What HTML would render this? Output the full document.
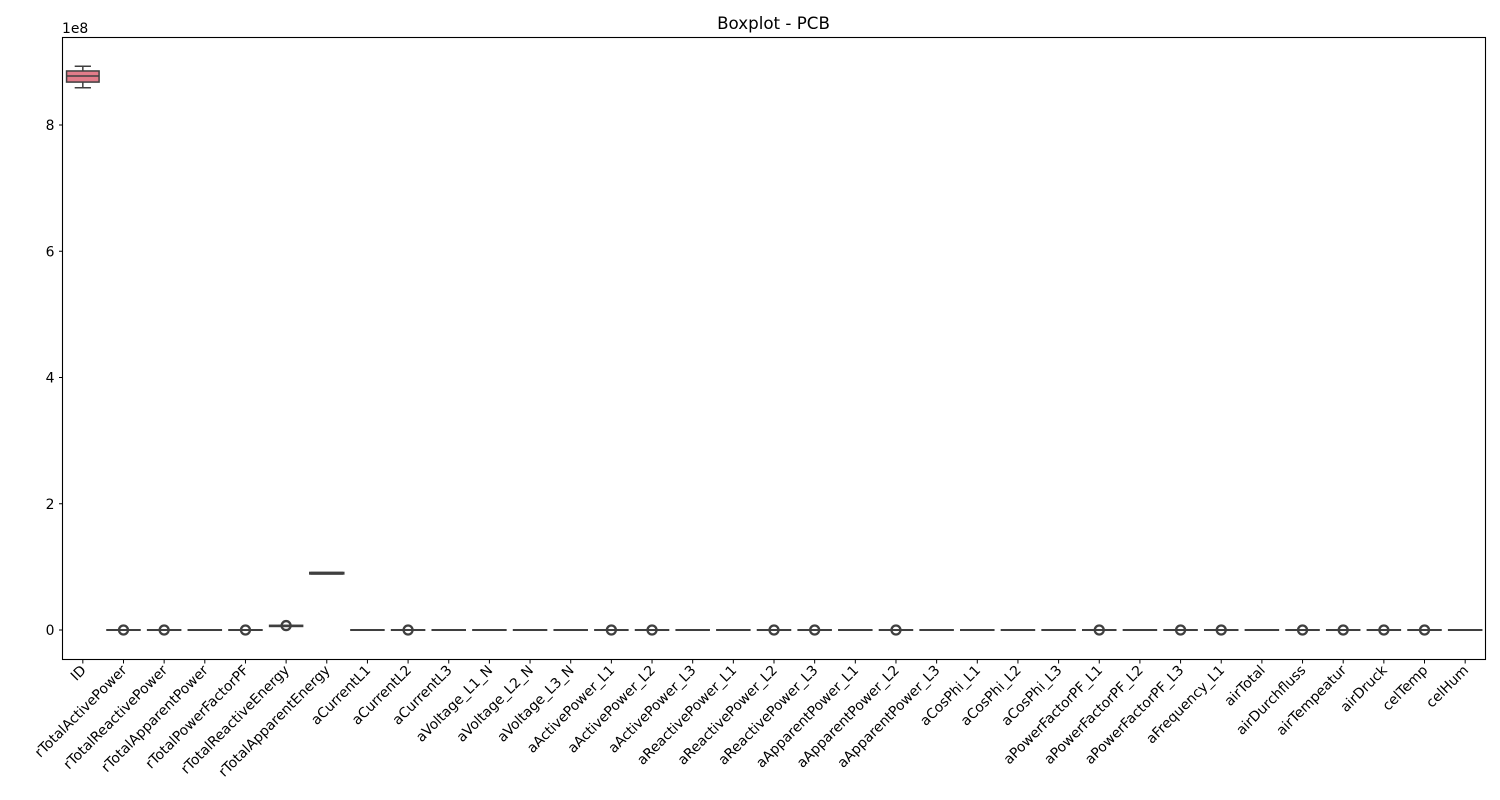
<!DOCTYPE html>
<html><head><meta charset="utf-8"><style>
html,body{margin:0;padding:0;background:#fff;}
svg{display:block;font-family:"DejaVu Sans","Liberation Sans",sans-serif;}
</style></head><body>
<svg id="chart" width="1500" height="800" viewBox="0 0 1500 800">
<text x="773.5" y="29" text-anchor="middle" font-size="16.7">Boxplot - PCB</text>
<text x="62" y="33" font-size="13.9">1e8</text>
<g id="plot"></g>
<rect x="62.5" y="37.5" width="1423" height="622" fill="none" stroke="#000" stroke-width="1.1"/>
</svg>
<script>
const categories=["ID","rTotalActivePower","rTotalReactivePower","rTotalApparentPower","rTotalPowerFactorPF","rTotalReactiveEnergy","rTotalApparentEnergy","aCurrentL1","aCurrentL2","aCurrentL3","aVoltage_L1_N","aVoltage_L2_N","aVoltage_L3_N","aActivePower_L1","aActivePower_L2","aActivePower_L3","aReactivePower_L1","aReactivePower_L2","aReactivePower_L3","aApparentPower_L1","aApparentPower_L2","aApparentPower_L3","aCosPhi_L1","aCosPhi_L2","aCosPhi_L3","aPowerFactorPF_L1","aPowerFactorPF_L2","aPowerFactorPF_L3","aFrequency_L1","airTotal","airDurchfluss","airTempeatur","airDruck","celTemp","celHum"];
// values in units of 1e8
const whiskLow=[8.59,0,0,0,0,0.06,0.9,0,0,0,0,0,0,0,0,0,0,0,0,0,0,0,0,0,0,0,0,0,0,0,0,0,0,0,0];
const q1=[8.68,0,0,0,0,0.06,0.9,0,0,0,0,0,0,0,0,0,0,0,0,0,0,0,0,0,0,0,0,0,0,0,0,0,0,0,0];
const med=[8.776,0,0,0,0,0.065,0.9,0,0,0,0,0,0,0,0,0,0,0,0,0,0,0,0,0,0,0,0,0,0,0,0,0,0,0,0];
const q3=[8.856,0,0,0,0,0.07,0.9,0,0,0,0,0,0,0,0,0,0,0,0,0,0,0,0,0,0,0,0,0,0,0,0,0,0,0,0];
const whiskHigh=[8.93,0,0,0,0,0.07,0.9,0,0,0,0,0,0,0,0,0,0,0,0,0,0,0,0,0,0,0,0,0,0,0,0,0,0,0,0];
const outliers=[[],[0],[0],[],[0],[0.07],[],[],[0],[],[],[],[],[0],[0],[],[],[0],[0],[],[0],[],[],[],[],[0],[],[0],[0],[],[0],[0],[0],[0],[]];
const yTicks=[0,2,4,6,8];
const colors=["#e27c8a"];
const NS="http://www.w3.org/2000/svg";
const g=document.getElementById('plot');
const left=62.5,right=1485.5,step=(right-left)/categories.length;
function xPos(i){return left+step*(i+0.5);}
function yPos(v){return 630-v*63.125;}
function mk(tag,attrs){const e=document.createElementNS(NS,tag);for(const k in attrs)e.setAttribute(k,attrs[k]);g.appendChild(e);return e;}
yTicks.forEach(t=>{
  const tk=mk('line',{x1:left-3.5,x2:left,y1:yPos(t),y2:yPos(t),stroke:'#000','stroke-width':1});
  
  
  const tx=mk('text',{x:left-8,y:yPos(t)+5,'text-anchor':'end','font-size':13.9});
  tx.textContent=t;
  
  
});
categories.forEach((c,i)=>{
  const x=xPos(i),w=step*0.8,cw=step*0.4,col='#3f3f3f';
  const grp=mk('g',{});
  
  
  const add=(tag,a)=>{const e=document.createElementNS(NS,tag);for(const k in a)e.setAttribute(k,a[k]);grp.appendChild(e);return e;};
  add('line',{x1:x,x2:x,y1:yPos(whiskHigh[i]),y2:yPos(q3[i]),stroke:col,'stroke-width':1.5});
  add('line',{x1:x,x2:x,y1:yPos(q1[i]),y2:yPos(whiskLow[i]),stroke:col,'stroke-width':1.5});
  add('line',{x1:x-cw/2,x2:x+cw/2,y1:yPos(whiskHigh[i]),y2:yPos(whiskHigh[i]),stroke:col,'stroke-width':1.5});
  add('line',{x1:x-cw/2,x2:x+cw/2,y1:yPos(whiskLow[i]),y2:yPos(whiskLow[i]),stroke:col,'stroke-width':1.5});
  const h=Math.max(yPos(q1[i])-yPos(q3[i]),0.01);
  const sw=(h<1?(i===6?3:2):1.5);
  add('rect',{x:x-w/2,y:yPos(q3[i]),width:w,height:h,fill:i===0?colors[0]:'#888',stroke:col,'stroke-width':sw});
  add('line',{x1:x-w/2,x2:x+w/2,y1:yPos(med[i]),y2:yPos(med[i]),stroke:col,'stroke-width':sw});
  outliers[i].forEach(o=>{
    const ci=add('circle',{cx:x,cy:yPos(o),r:4.5,fill:'none',stroke:col,'stroke-width':2.3});
    
    
  });
  const tk=mk('line',{x1:x,x2:x,y1:660,y2:663.5,stroke:'#000','stroke-width':1});
  
  
  const tx=mk('text',{x:x+4,y:671,'text-anchor':'end','font-size':13.9,transform:`rotate(-45 ${x+4} 671)`});
  tx.textContent=c;
  
  
});
</script>
</body></html>
